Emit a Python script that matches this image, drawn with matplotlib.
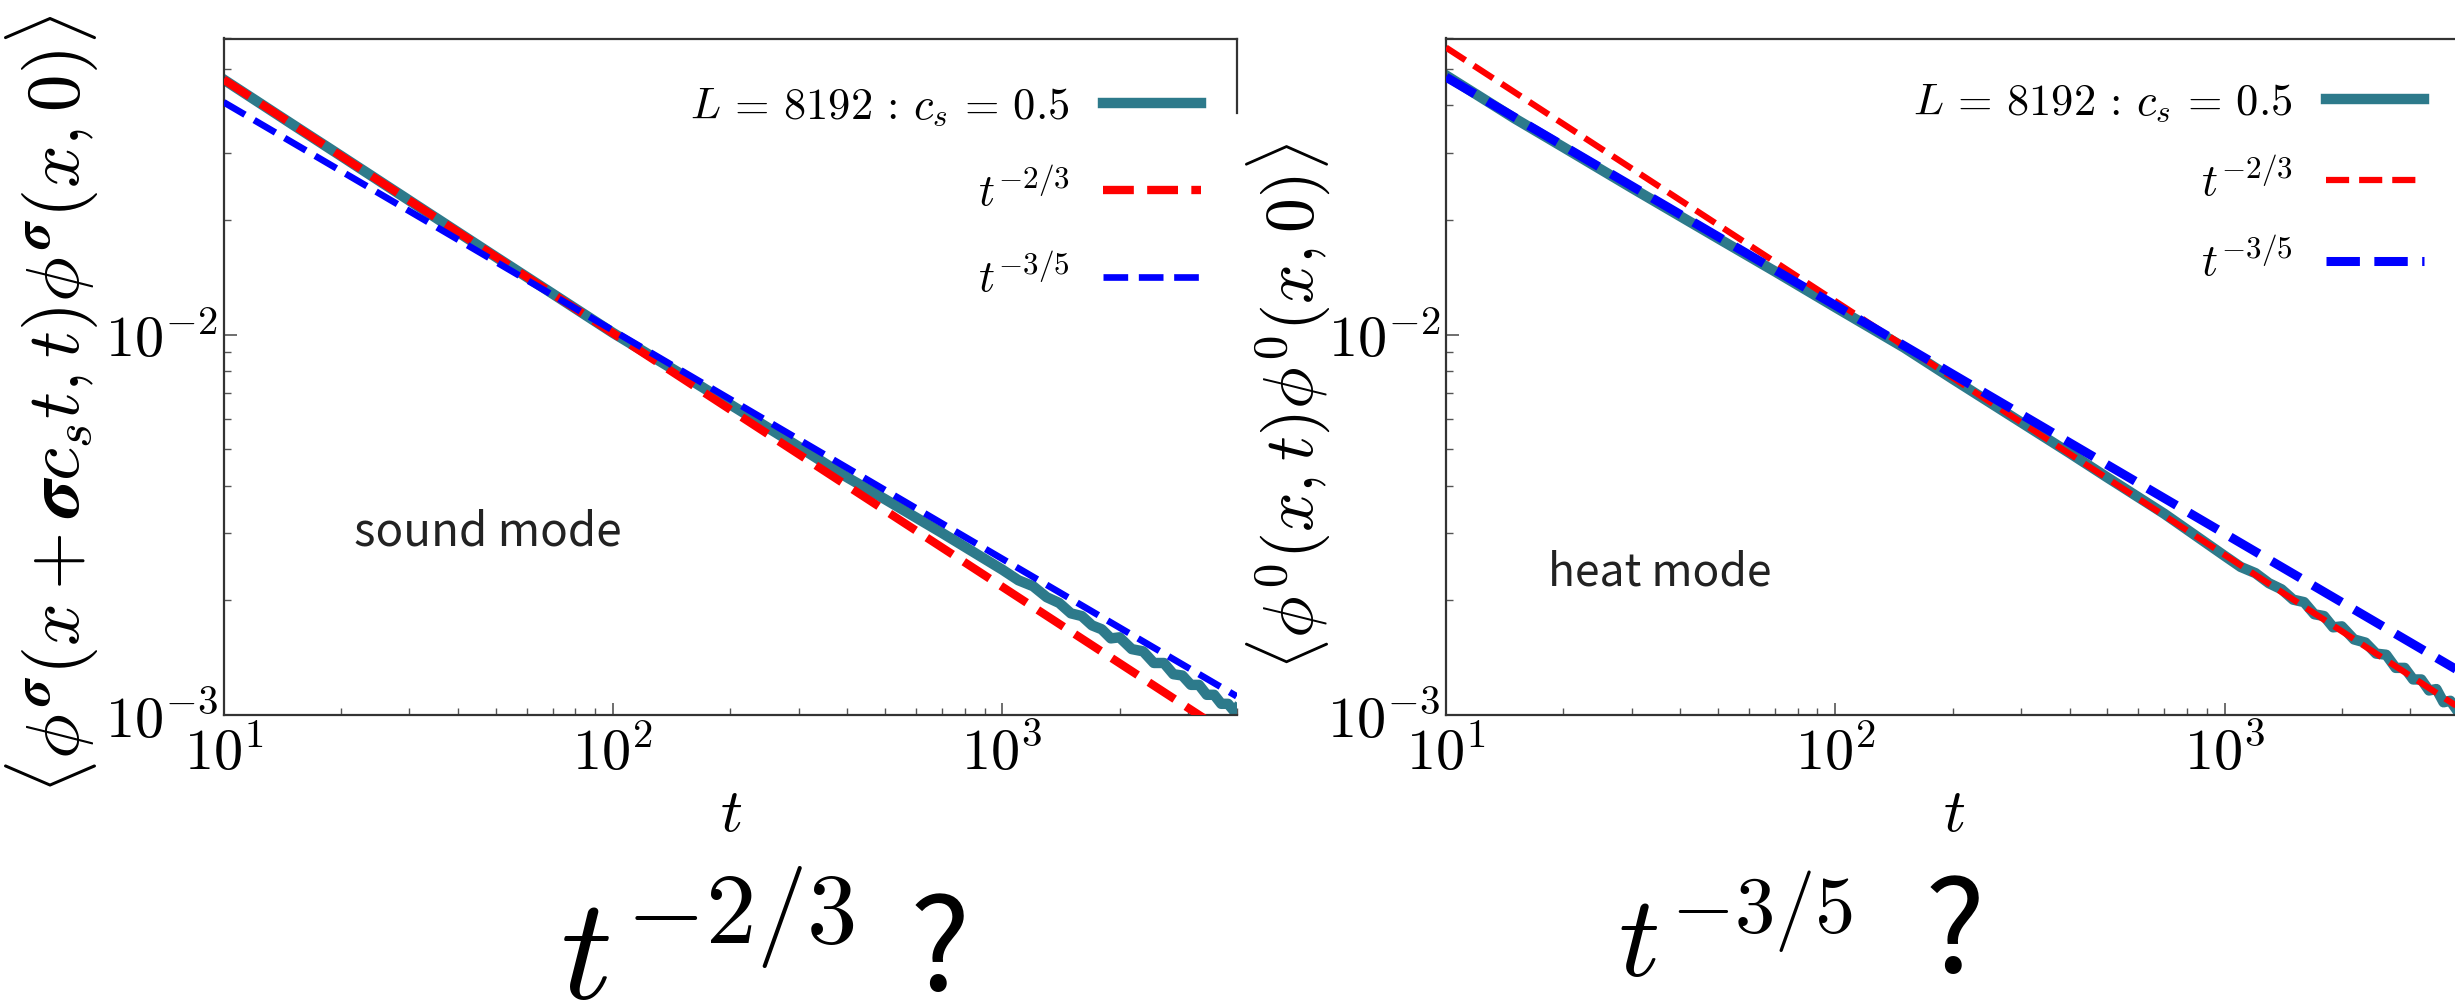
import matplotlib
matplotlib.use("Agg")
import matplotlib.pyplot as plt

plt.rcParams['mathtext.fontset'] = 'cm'
plt.rcParams['font.family'] = ['DejaVu Sans']

# ---------------- data ----------------
t_data = [10, 15, 20, 30, 50, 70, 100, 150, 200, 300, 400, 500, 700,
          1000, 1100, 1200, 1300, 1400, 1500, 1600, 1700, 1800, 1900, 2000,
          2150, 2300, 2450, 2600, 2750, 2900, 3050, 3200, 3350, 3500,
          3650, 3800, 3950, 4000]

sound_data = [0.0468, 0.0357, 0.0295, 0.0225, 0.0160, 0.0128, 0.0101, 0.00786,
              0.00655, 0.00507, 0.00421, 0.00369, 0.00301,
              0.00241, 0.00226, 0.00218, 0.00204, 0.00197, 0.00185, 0.00182,
              0.00172, 0.00168, 0.00159, 0.00160,
              0.00149, 0.00147, 0.00137, 0.00137, 0.00128, 0.00127, 0.00120,
              0.00120, 0.00113, 0.00113, 0.00107, 0.00107, 0.00102, 0.00104]

heat_data = [0.0480, 0.0370, 0.0311, 0.0243, 0.0179, 0.01465, 0.0118, 0.00925,
             0.00765, 0.00588, 0.00488, 0.00421, 0.00338,
             0.00262, 0.00245, 0.00236, 0.00222, 0.00214, 0.00201, 0.00198,
             0.00184, 0.00182, 0.00170, 0.00171,
             0.00158, 0.00155, 0.00145, 0.00144, 0.00133, 0.00133, 0.00124,
             0.00124, 0.00116, 0.00117, 0.00108, 0.00109, 0.00103, 0.00105]

fit_t = [10, 4000]
sound_fit_23 = [0.0468, 0.000862]
sound_fit_35 = [0.0408, 0.00112]
heat_fit_23 = [0.0568, 0.001046]
heat_fit_35 = [0.0475, 0.001305]

xticks = [10, 100, 1000]
xticklabels = [r'$10^{1}$', r'$10^{2}$', r'$10^{3}$']
yticks = [1e-3, 1e-2]
yticklabels = [r'$10^{-3}$', r'$10^{-2}$']

data_label = r'$L\,=\,8192\,:\,c_s\,=\,0.5$'
fit23_label = r'$t^{-2/3}$'
fit35_label = r'$t^{-3/5}$'

TEAL = '#2d7a8b'
W, H = 2455, 1007

fig = plt.figure(figsize=(W / 100, H / 100), dpi=100)


def style_axes(ax):
    ax.set_xscale('log')
    ax.set_yscale('log')
    ax.set_xlim(10, 4000)
    ax.set_ylim(1e-3, 0.06)
    ax.set_xticks(xticks)
    ax.set_xticklabels(xticklabels, fontsize=42)
    ax.set_yticks(yticks)
    ax.set_yticklabels(yticklabels, fontsize=42)
    ax.tick_params(which='both', direction='in', top=False, right=False,
                   color='#555555')
    ax.tick_params(which='major', length=9, width=1.2)
    ax.tick_params(axis='x', which='major', pad=7)
    ax.tick_params(axis='y', which='major', pad=4)
    ax.tick_params(which='minor', length=5, width=1.0, labelbottom=False,
                   labelleft=False)
    for s in ax.spines.values():
        s.set_color('#333333')
        s.set_linewidth(1.6)


# ---------- left panel: sound mode ----------
axL = fig.add_axes([223.7 / W, 1 - 715 / H, 1013 / W, 676.5 / H])
style_axes(axL)
axL.plot(t_data, sound_data, color=TEAL, lw=7.5, label=data_label, zorder=2)
axL.plot(fit_t, sound_fit_23, color='#ff0000', lw=6, ls='--', label=fit23_label, zorder=3)
axL.plot(fit_t, sound_fit_35, color='#0000ff', lw=4.8, ls='--', label=fit35_label, zorder=4)
axL.spines['right'].set_visible(False)
axL.plot([1, 1], [1, 1 - (113 - 38.5) / 676.5], transform=axL.transAxes,
         color='#333333', lw=1.6, clip_on=False, zorder=5)
axL.text(0.1286, 0.2705, 'sound mode', transform=axL.transAxes, fontsize=33,
         family=['Noto Sans CJK JP', 'DejaVu Sans'], va='center', ha='left',
         color='#222222')
legL = axL.legend(loc='upper right', bbox_to_anchor=(0.9648, 0.932),
                  frameon=False, markerfirst=False, fontsize=32,
                  handlelength=2.2, handletextpad=0.75, labelspacing=0.90,
                  borderaxespad=0, borderpad=0)

# ---------- right panel: heat mode ----------
axR = fig.add_axes([1446 / W, 1 - 715 / H, 1013 / W, 676.5 / H])
style_axes(axR)
axR.plot(t_data, heat_data, color=TEAL, lw=7.5, label=data_label, zorder=2)
axR.plot(fit_t, heat_fit_23, color='#ff0000', lw=4.5, ls='--', label=fit23_label, zorder=3)
axR.plot(fit_t, heat_fit_35, color='#0000ff', lw=6.5, ls='--', label=fit35_label, zorder=4)
axR.text(0.1007, 0.21, 'heat mode', transform=axR.transAxes, fontsize=32,
         family=['Noto Sans CJK JP', 'DejaVu Sans'], va='center', ha='left',
         color='#222222')
legR = axR.legend(loc='upper right', bbox_to_anchor=(0.9655, 0.938),
                  frameon=False, markerfirst=False, fontsize=32,
                  handlelength=2.2, handletextpad=0.75, labelspacing=0.77,
                  borderaxespad=0, borderpad=0)

# ---------- axis labels ----------
fig.text(52 / W, 1 - 404 / H,
         r'$\langle\phi^{\boldsymbol{\sigma}}(x+\boldsymbol{\sigma} c_s t,t)\phi^{\boldsymbol{\sigma}}(x,0)\rangle$',
         rotation=90, fontsize=54, ha='center', va='center')
fig.text(1288 / W, 1 - 407 / H, r'$\langle\phi^0(x,t)\phi^0(x,0)\rangle$',
         rotation=90, fontsize=50, ha='center', va='center')
fig.text(731 / W, 1 - 815 / H, r'$t$', fontsize=44, ha='center', va='center')
fig.text(1954 / W, 1 - 815 / H, r'$t$', fontsize=44, ha='center', va='center')

# ---------- big questions ----------
fig.text(560 / W, 1 - 998 / H, r'$t^{-2/3}$', fontsize=104, ha='left', va='baseline')
fig.text(910 / W, 1 - 990 / H, '?', fontsize=92, ha='left', va='baseline',
         family=['Noto Sans CJK JP', 'DejaVu Sans'])
fig.text(1618 / W, 1 - 977 / H, r'$t^{-3/5}$', fontsize=83, ha='left', va='baseline')
fig.text(1925 / W, 1 - 972 / H, '?', fontsize=92, ha='left', va='baseline',
         family=['Noto Sans CJK JP', 'DejaVu Sans'])

fig.savefig('out.png', dpi=100, facecolor='white')
